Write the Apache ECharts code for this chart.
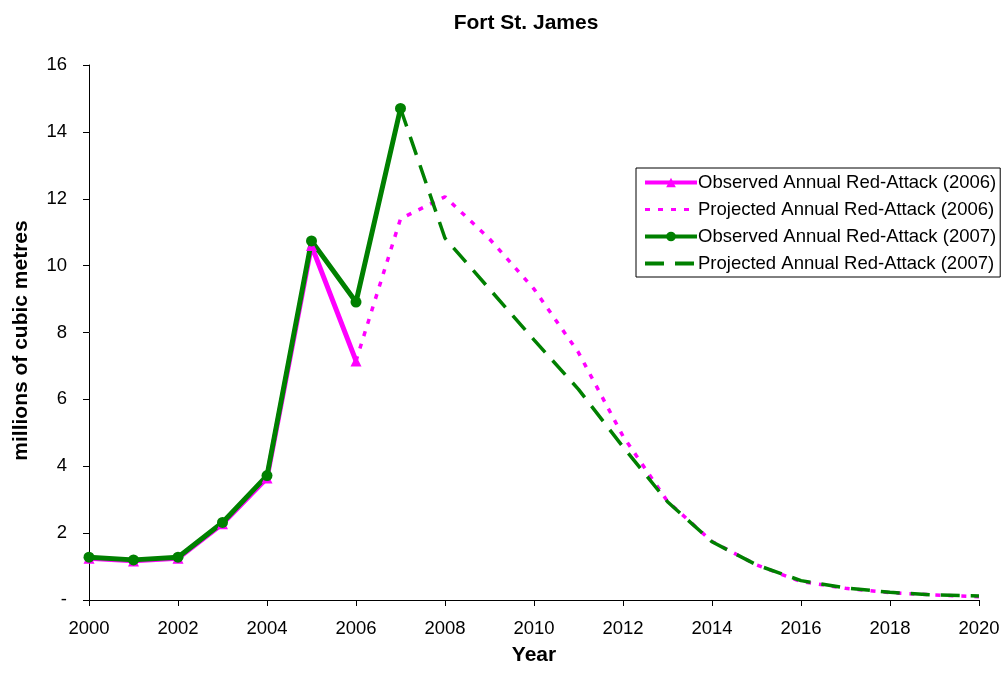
<!DOCTYPE html>
<html>
<head>
<meta charset="utf-8">
<script src="https://cdn.jsdelivr.net/npm/echarts@6/dist/echarts.min.js"></script>
<style>
  html, body { margin: 0; padding: 0; background: #fff; }
  #main { width: 1005px; height: 674px; }
</style>
</head>
<body>
<div id="main"></div>
<script>
// values (millions of cubic metres)
var obsYears2006 = [2000, 2001, 2002, 2003, 2004, 2005, 2006];
var obs2006 = [1.25, 1.17, 1.25, 2.28, 3.65, 10.6, 7.15];

var projYears2006 = [2006, 2007, 2008, 2009, 2010, 2011, 2012, 2013, 2014, 2015, 2016, 2017, 2018, 2019, 2020];
var proj2006 = [7.15, 11.4, 12.06, 10.8, 9.3, 7.4, 4.9, 2.95, 1.75, 1.05, 0.55, 0.35, 0.22, 0.15, 0.1];

var obsYears2007 = [2000, 2001, 2002, 2003, 2004, 2005, 2006, 2007];
var obs2007 = [1.28, 1.2, 1.28, 2.32, 3.72, 10.74, 8.91, 14.7];

var projYears2007 = [2007, 2008, 2009, 2010, 2011, 2012, 2013, 2014, 2015, 2016, 2017, 2018, 2019, 2020];
var proj2007 = [14.7, 10.82, 9.3, 7.78, 6.3, 4.58, 2.94, 1.74, 1.05, 0.58, 0.36, 0.23, 0.15, 0.12];

var names = [
  'Observed Annual Red-Attack (2006)',
  'Projected Annual Red-Attack (2006)',
  'Observed Annual Red-Attack (2007)',
  'Projected Annual Red-Attack (2007)'
];

function pairs(xs, ys) {
  return xs.map(function (x, i) { return [x, ys[i]]; });
}

var MAGENTA = '#ff00ff';
var GREEN = '#008000';
var font = 'Arial, "Liberation Sans", sans-serif';

var myChart = echarts.init(document.getElementById('main'));
myChart.setOption({
  animation: false,
  backgroundColor: '#fff',
  title: {
    text: 'Fort St. James',
    left: 521,
    textAlign: 'center',
    top: 8,
    textStyle: { fontFamily: font, fontSize: 21, fontWeight: 'bold', color: '#000' }
  },
  grid: { left: 89, right: 26, top: 65, bottom: 74 },
  legend: {
    orient: 'vertical',
    left: 636,
    top: 168,
    borderColor: '#000',
    borderWidth: 1,
    padding: [5, 4, 4, 7],
    itemGap: 8,
    itemWidth: 52,
    itemHeight: 12,
    textStyle: { fontFamily: font, fontSize: 18.5, color: '#000', padding: [0, 0, 0, -4] },
    data: [
      { name: names[0], lineStyle: { width: 4 } },
      // projected lines: hide the marker in the legend icon
      { name: names[1], lineStyle: { width: 3 }, itemStyle: { opacity: 0 } },
      { name: names[2], lineStyle: { width: 4 } },
      { name: names[3], lineStyle: { width: 4 }, itemStyle: { opacity: 0 } }
    ]
  },
  xAxis: {
    type: 'value',
    min: 2000,
    max: 2020,
    interval: 2,
    name: 'Year',
    nameLocation: 'middle',
    nameGap: 45,
    nameTextStyle: { fontFamily: font, fontSize: 21, fontWeight: 'bold', color: '#000' },
    axisLine: { lineStyle: { color: '#000', width: 1 } },
    axisTick: { length: 6, lineStyle: { color: '#000' } },
    splitLine: { show: false },
    axisLabel: {
      fontFamily: font, fontSize: 18.5, color: '#000', margin: 19,
      formatter: function (v) { return String(v); }
    }
  },
  yAxis: {
    type: 'value',
    min: 0,
    max: 16,
    interval: 2,
    name: 'millions of cubic metres',
    nameLocation: 'middle',
    nameGap: 57,
    nameTextStyle: { fontFamily: font, fontSize: 21, fontWeight: 'bold', color: '#000', padding: [0, 16, 0, 0] },
    axisLine: { show: true, lineStyle: { color: '#000', width: 1 } },
    axisTick: { show: true, length: 6, lineStyle: { color: '#000' } },
    splitLine: { show: false },
    axisLabel: {
      fontFamily: font, fontSize: 18.5, color: '#000', margin: 22,
      formatter: function (v) { return v === 0 ? '-' : String(v); }
    }
  },
  series: [
    {
      name: names[0],
      type: 'line',
      data: pairs(obsYears2006, obs2006),
      symbol: 'triangle',
      symbolSize: 11,
      itemStyle: { color: MAGENTA },
      lineStyle: { color: MAGENTA, width: 5 }
    },
    {
      name: names[1],
      type: 'line',
      data: pairs(projYears2006, proj2006),
      showSymbol: false,
      itemStyle: { color: MAGENTA },
      lineStyle: { color: MAGENTA, width: 3.5, type: [5, 8] }
    },
    {
      name: names[2],
      type: 'line',
      data: pairs(obsYears2007, obs2007),
      symbol: 'circle',
      symbolSize: 11,
      itemStyle: { color: GREEN },
      lineStyle: { color: GREEN, width: 5 }
    },
    {
      name: names[3],
      type: 'line',
      data: pairs(projYears2007, proj2007),
      showSymbol: false,
      itemStyle: { color: GREEN },
      lineStyle: { color: GREEN, width: 3.5, type: [19, 11] }
    }
  ]
});
</script>
</body>
</html>
